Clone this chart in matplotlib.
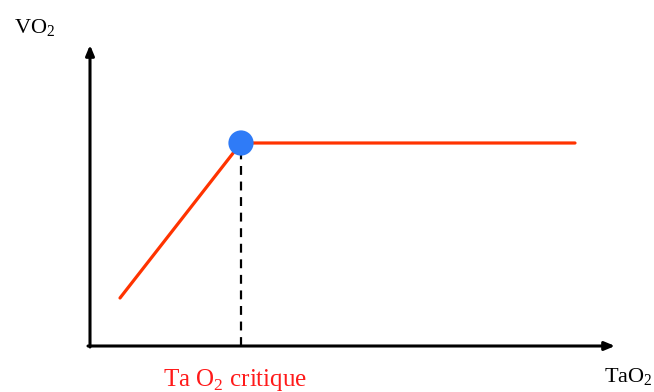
import matplotlib.pyplot as plt

plt.rcParams['font.family'] = 'Liberation Serif'
plt.rcParams['mathtext.fontset'] = 'custom'
plt.rcParams['mathtext.rm'] = 'Liberation Serif'

# curve of VO2 against TaO2 (arbitrary units)
tao2 = [30, 151, 485]
vo2 = [48, 203, 203]
critical_x = 151
critical_y = 203

W, H = 654, 392
fig = plt.figure(figsize=(W / 100, H / 100), dpi=100)
ax = fig.add_axes([90 / W, (H - 346) / H, (615 - 90) / W, (346 - 45) / H])
ax.set_xlim(0, 525)
ax.set_ylim(0, 301)
ax.axis('off')

# axes with arrow heads
arrow = dict(arrowstyle='-|>,head_length=0.6,head_width=0.25', color='black', lw=2.2,
             shrinkA=0, shrinkB=0)
ax.annotate('', xy=(0, 301), xytext=(0, -1), arrowprops=arrow, annotation_clip=False)
ax.annotate('', xy=(525, 0), xytext=(-2, 0), arrowprops=arrow, annotation_clip=False)

ax.plot(tao2, vo2, color='#ff3300', lw=2.3, solid_capstyle='round', zorder=3)
ax.plot([critical_x, critical_x], [0, critical_y], color='black', lw=1.6,
        linestyle=(0, (4, 3)), zorder=2)
ax.scatter([critical_x], [critical_y], s=330, color='#2f7bf7', edgecolor='none', zorder=4)

fig.text(14 / W, 1 - 28 / H, r'VO$_\mathregular{2}$', fontsize=16, va='center', ha='left')
fig.text(604 / W, 1 - 377 / H, r'TaO$_\mathregular{2}$', fontsize=16, va='center', ha='left')
fig.text(235 / W, 1 - 380 / H, r'Ta O$_\mathregular{2}$ critique', fontsize=18,
         color='#ff1a1a', va='center', ha='center')

fig.savefig('out.png', dpi=100)
